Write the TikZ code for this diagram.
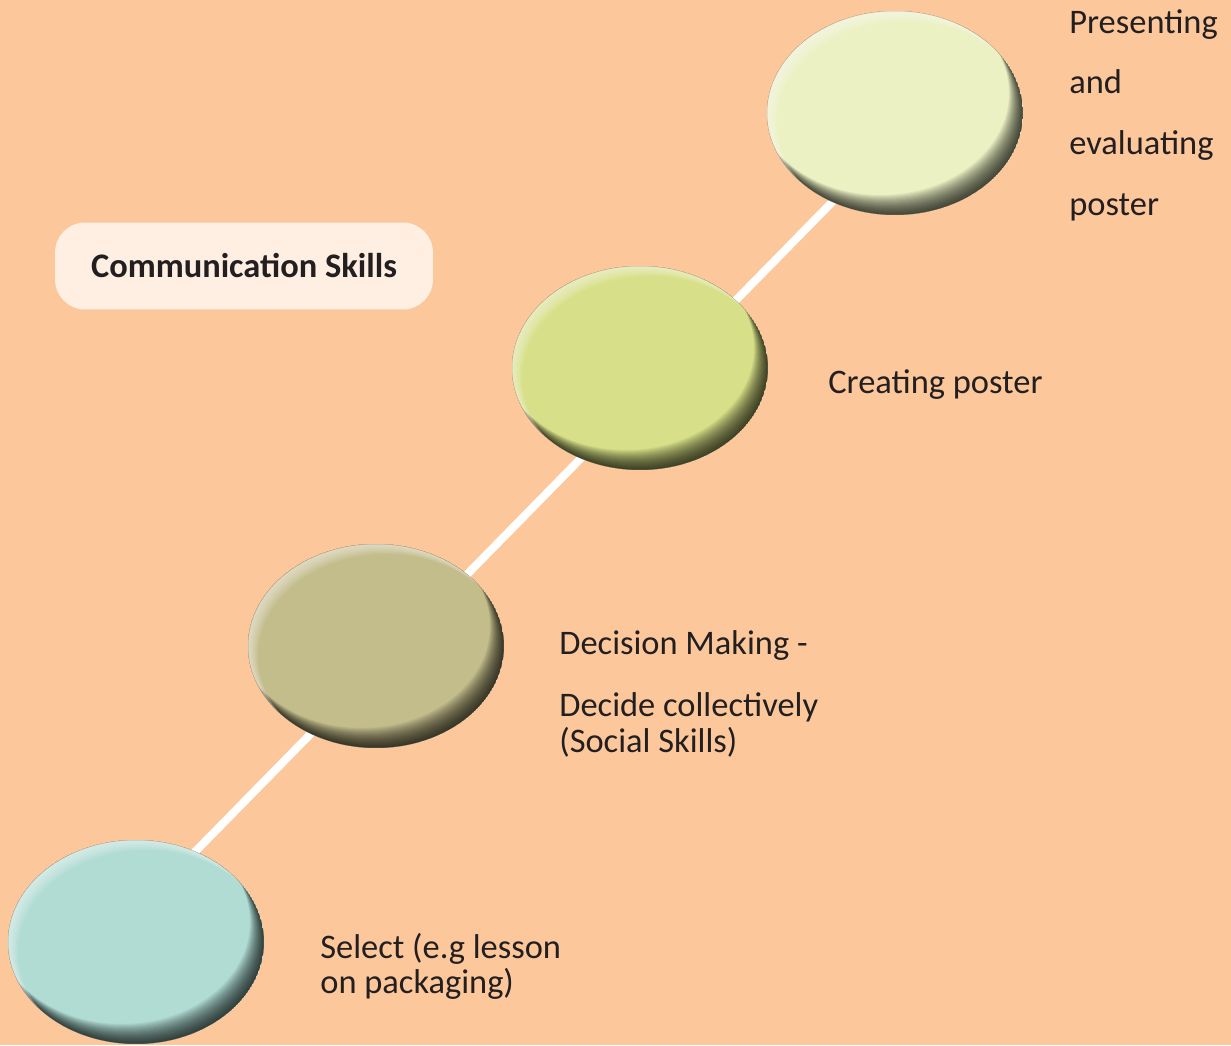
\documentclass[tikz,border=0pt]{standalone}
\usepackage{fontspec}
\setmainfont{Carlito}
\usetikzlibrary{shapes.geometric,backgrounds,positioning}

\definecolor{peach}{HTML}{FBC79B}
\definecolor{boxfill}{HTML}{FEEFE2}
\definecolor{txt}{HTML}{231F20}
\definecolor{presentc}{HTML}{EBF1C3}
\definecolor{createc}{HTML}{D7E088}
\definecolor{decidec}{HTML}{C3BC8B}
\definecolor{selectc}{HTML}{B0DCD3}

\begin{document}
\begin{tikzpicture}
[x=0.02cm, y=-0.02cm, font=\fontsize{19.6}{20}\selectfont, text=txt,
% STYLES
bevel/.style={path picture={
  \foreach \k in {1,...,20}
    \fill[black, opacity=0.055, even odd rule] (path picture bounding box.center)
      ellipse [x radius=2.56cm, y radius=2.04cm]
      ++(-0.014cm*\k, 0.02cm*\k) ellipse [x radius=2.56cm, y radius=2.04cm];
  \foreach \k in {1,...,8}
    \fill[white, opacity=0.08, even odd rule] (path picture bounding box.center)
      ellipse [x radius=2.56cm, y radius=2.04cm]
      ++(0.025cm*\k, -0.025cm*\k) ellipse [x radius=2.56cm, y radius=2.04cm];
}},
stage/.style={ellipse, minimum width=5.12cm, minimum height=4.08cm, inner sep=0pt, bevel},
label/.style={anchor=west, align=left, inner sep=0pt},
title/.style={rectangle, rounded corners=0.6cm, fill=boxfill, minimum width=7.56cm, minimum height=1.74cm, font=\fontsize{19.6}{20}\selectfont\bfseries}]

% stages
\node [stage, fill=presentc] (present) at (895,113) {};
\node [stage, fill=createc] (create) at (640,368) {};
\node [stage, fill=decidec] (decide) at (376,646) {};
\node [stage, fill=selectc] (select) at (136,942) {};

% labels
\node [label] (present-txt) at (1069,115) {Presenting\\[0.51cm] and\\[0.51cm] evaluating\\[0.51cm] poster};
\node [label] (create-txt) at (828,385) {Creating poster};
\node [label, anchor=north west] (decide-txt) at (559,630) {Decision Making -\\[0.55cm] Decide collectively\\ (Social Skills)};
\node [label, anchor=north west] (select-txt) at (320,933) {Select (e.g lesson\\ on packaging)};

\node [title] (skills) at (244,266) {Communication Skills};

%%%%%%%%%%%

\begin{pgfonlayer}{background}
\fill[peach] (0,0) rectangle (1231,1045);
\draw[white, line width=0.16cm] ([yshift=0.6cm]select.center) -- ([yshift=-0.5cm]present.center);
\end{pgfonlayer}

\end{tikzpicture}
\end{document}
